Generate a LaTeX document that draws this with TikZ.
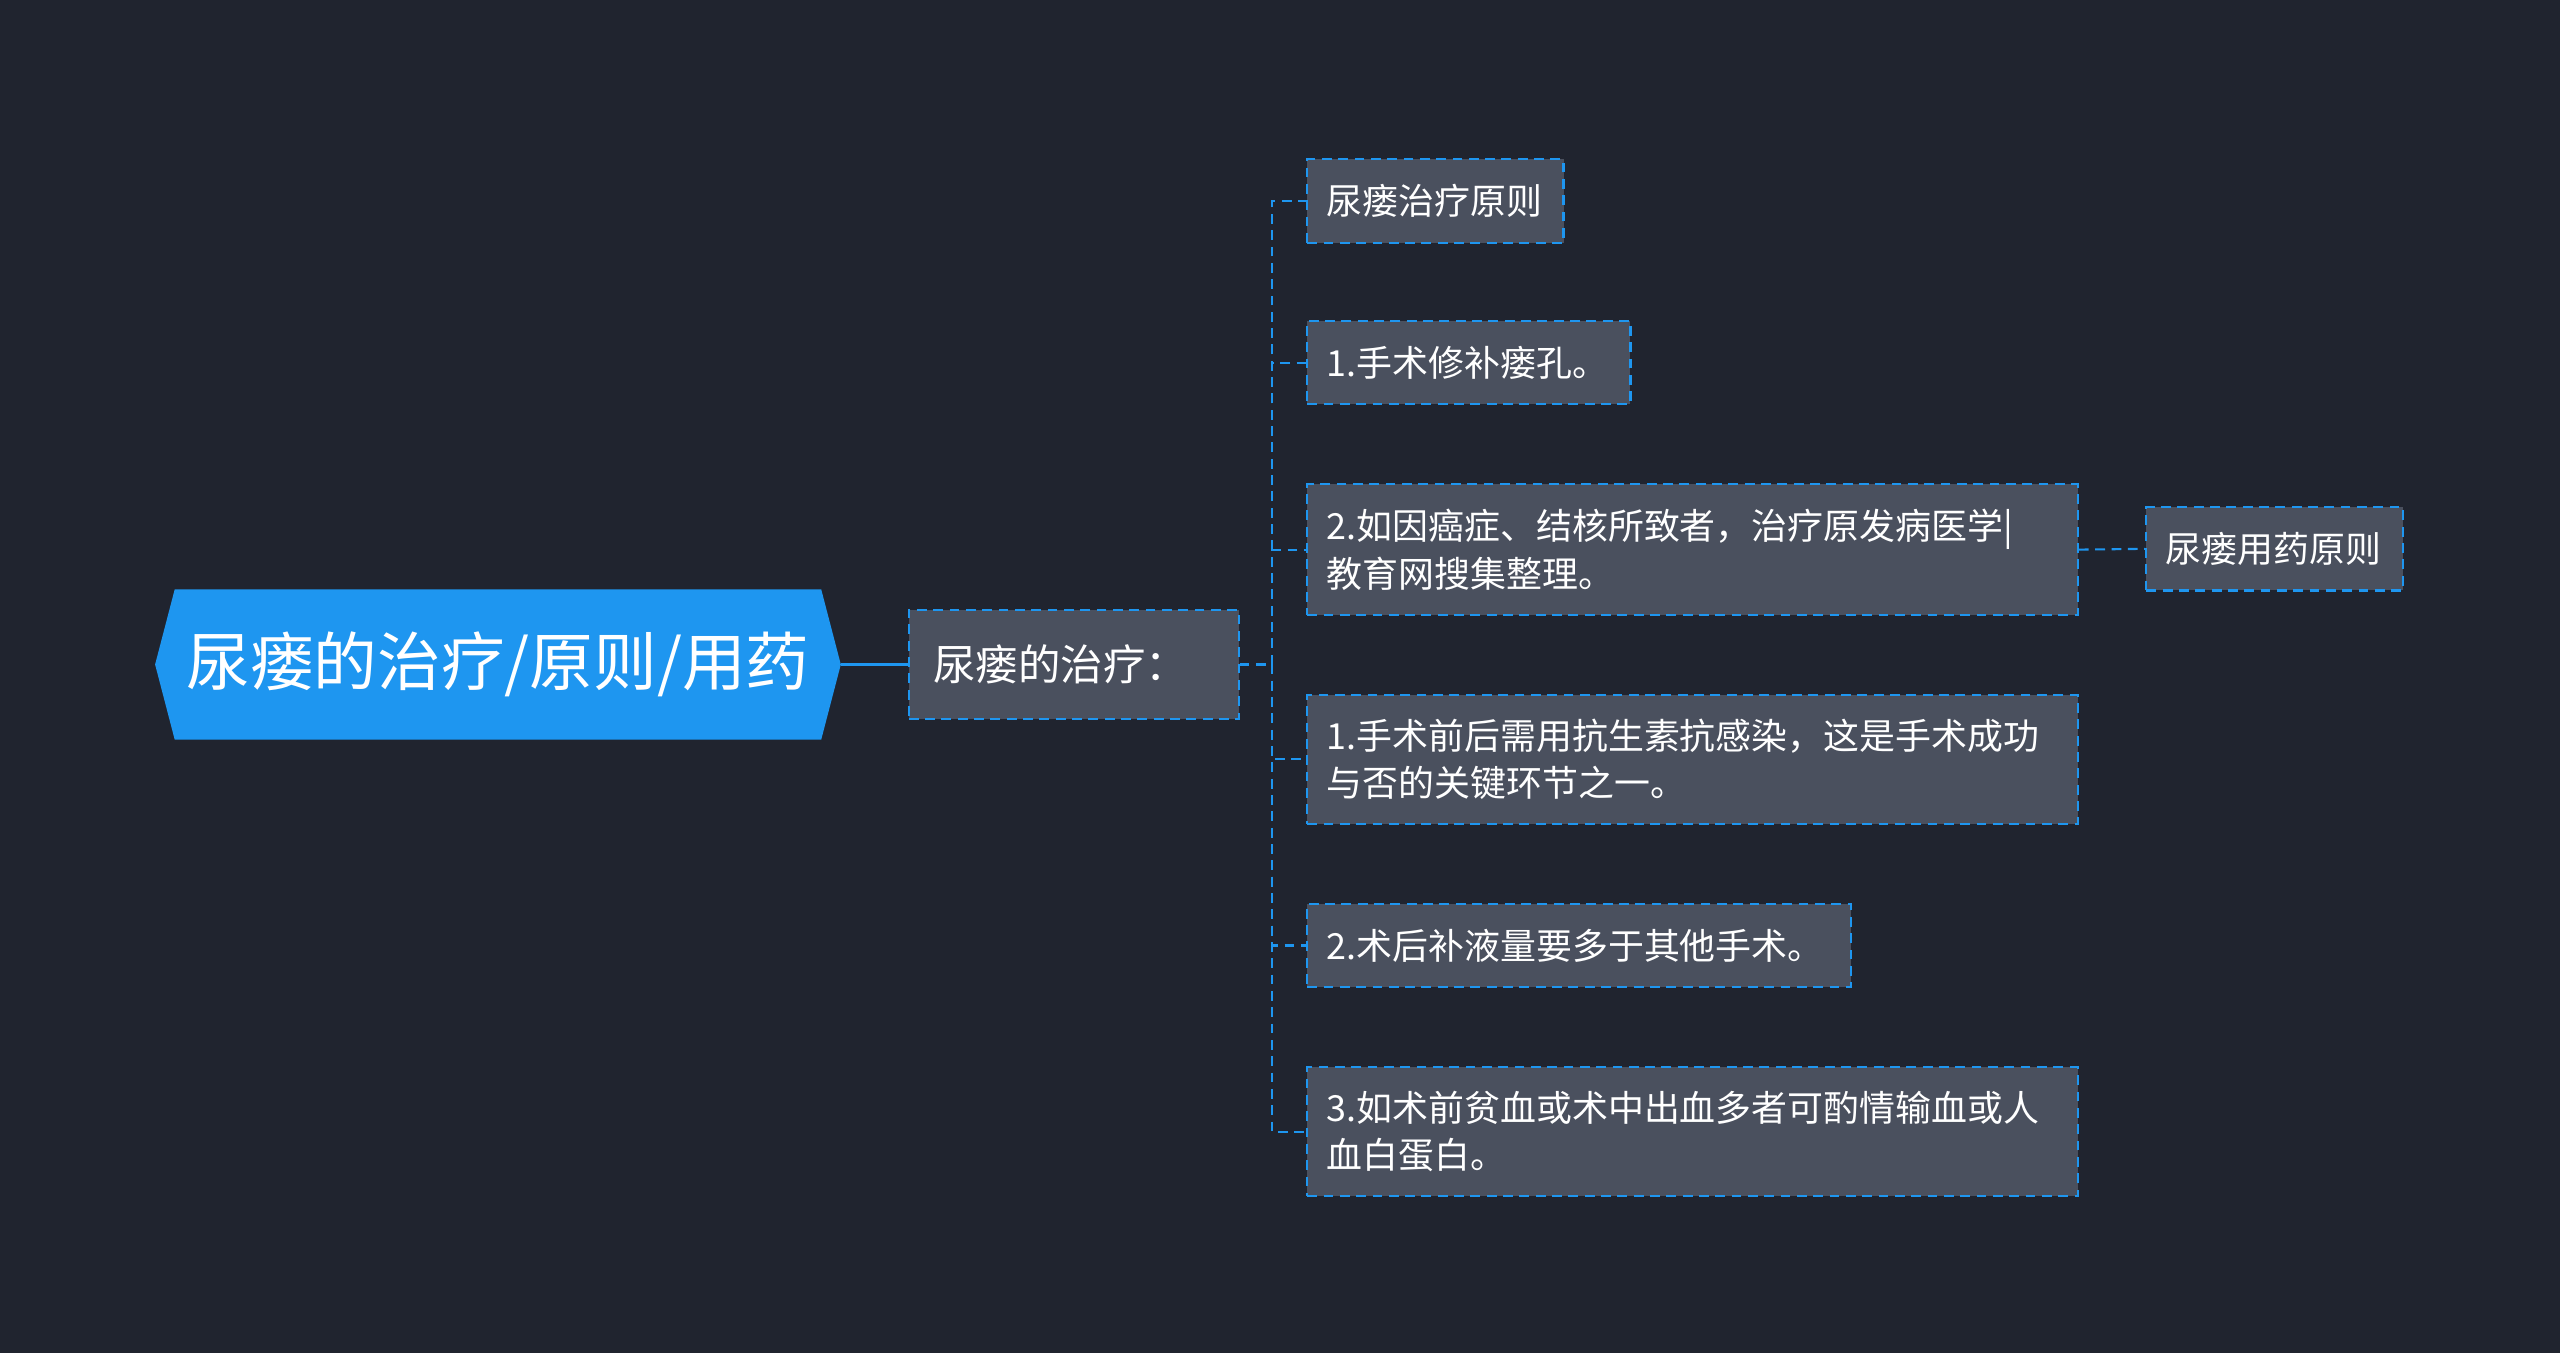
\documentclass[tikz,border=0pt]{standalone}
\usepackage{fontspec}
\setmainfont{Noto Sans CJK SC}
\usetikzlibrary{shapes.geometric}
\definecolor{bg}{HTML}{20242F}
\definecolor{leaf}{HTML}{4A505E}
\definecolor{blu}{HTML}{1E96F0}
\tikzset{x=1pt,y=-1pt,
 leafbox/.style={draw=blu,fill=leaf,dash pattern=on 6pt off 4pt,line width=1.3pt,text=white,font=\fontsize{22}{29}\selectfont,align=left,anchor=north west,inner xsep=12pt,inner ysep=0pt},
 con/.style={draw=blu,dash pattern=on 6pt off 4pt,line width=1.3pt}}
\begin{document}
\begin{tikzpicture}
\fill[bg] (0,0) rectangle (1568,829);
\useasboundingbox (0,0) rectangle (1568,829);
\fill[blu] (95,407)--(107,361)--(503,361)--(515,407)--(503,453)--(107,453)--cycle;
\node[text=white,font=\fontsize{39}{44}\selectfont] (root) at (305,407) {尿瘘的治疗/原则/用药};
\coordinate (rootR) at (515,407);
\node[leafbox,text width=172pt,minimum height=67pt,anchor=west,inner xsep=15pt,font=\fontsize{26}{30}\selectfont] (n2) at (556,407) {尿瘘的治疗：};
\draw[blu,line width=1.5pt] (rootR) -- (n2.west);
\node[leafbox,text width=133pt,minimum height=51pt] (a) at (800,97) {尿瘘治疗原则};
\node[leafbox,text width=174pt,minimum height=51pt] (b) at (800,196) {1.手术修补瘘孔。};
\node[leafbox,text width=448pt,minimum height=80pt] (c) at (800,296) {2.如因癌症、结核所致者，治疗原发病医学|\\教育网搜集整理。};
\node[leafbox,text width=448pt,minimum height=79pt] (d) at (800,425) {1.手术前后需用抗生素抗感染，这是手术成功\\与否的关键环节之一。};
\node[leafbox,text width=309pt,minimum height=51pt] (e) at (800,553) {2.术后补液量要多于其他手术。};
\node[leafbox,text width=448pt,minimum height=79pt] (f) at (800,653) {3.如术前贫血或术中出血多者可酌情输血或人\\血白蛋白。};
\node[leafbox,text width=133pt,minimum height=51pt] (g) at (1314,310) {尿瘘用药原则};
\coordinate (bus) at (779,407);
\draw[con] (n2.east) -- (bus);
\foreach \n in {a,b,c,d,e,f}{\draw[con] (bus) -- (bus|-\n.west) -- (\n.west);}
\draw[con] (c.east) -- (g.west);
\end{tikzpicture}
\end{document}
